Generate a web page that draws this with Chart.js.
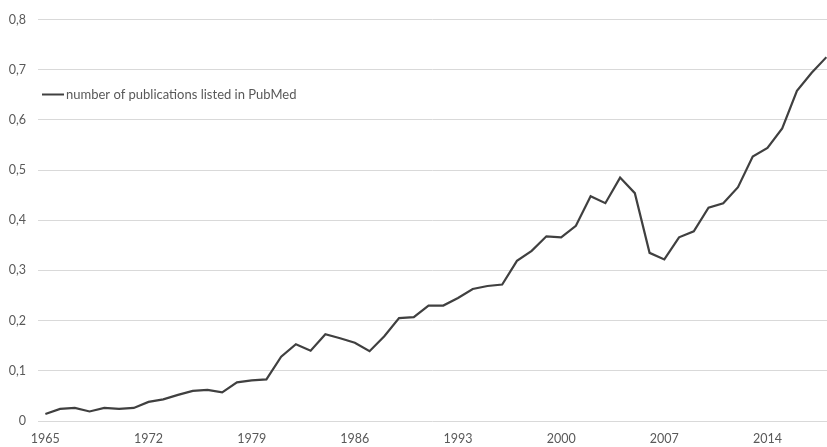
<!DOCTYPE html>
<html>
<head>
<meta charset="utf-8">
<title>PubMed publications</title>
<script src="https://cdn.jsdelivr.net/npm/chart.js@4/dist/chart.umd.min.js"></script>
<style>
    html, body { margin: 0; padding: 0; background: #fff; overflow: hidden; }
    #wrap { position: relative; width: 827px; height: 447px; }
</style>
</head>
<body>
<div id="wrap"><canvas id="chart"></canvas></div>
<script>
// --- Data ---
const years = [
    1965, 1966, 1967, 1968, 1969, 1970, 1971, 1972, 1973, 1974,
    1975, 1976, 1977, 1978, 1979, 1980, 1981, 1982, 1983, 1984,
    1985, 1986, 1987, 1988, 1989, 1990, 1991, 1992, 1993, 1994,
    1995, 1996, 1997, 1998, 1999, 2000, 2001, 2002, 2003, 2004,
    2005, 2006, 2007, 2008, 2009, 2010, 2011, 2012, 2013, 2014,
    2015, 2016, 2017, 2018
];
const publications = [
    0.014, 0.024, 0.026, 0.019, 0.026, 0.024, 0.026, 0.038, 0.043, 0.052,
    0.060, 0.062, 0.057, 0.077, 0.081, 0.083, 0.128, 0.153, 0.140, 0.173,
    0.165, 0.156, 0.139, 0.169, 0.205, 0.207, 0.230, 0.230, 0.245, 0.263,
    0.269, 0.272, 0.319, 0.339, 0.368, 0.366, 0.389, 0.448, 0.434, 0.485,
    0.454, 0.335, 0.322, 0.366, 0.378, 0.425, 0.434, 0.466, 0.527, 0.544,
    0.583, 0.658, 0.694, 0.725
];
const xTickYears = [1965, 1972, 1979, 1986, 1993, 2000, 2007, 2014];
const yTicks = [0, 0.1, 0.2, 0.3, 0.4, 0.5, 0.6, 0.7, 0.8];
const seriesLabel = 'number of publications listed in PubMed';

const fontFamily = 'Lato, "Open Sans", sans-serif';
const textColor = '#595959';
const lineColor = '#404040';

// --- Legend drawn inside the plot area, top left ---
const inlineLegend = {
    id: 'inlineLegend',
    afterDraw(chart) {
        const ctx = chart.ctx;
        const area = chart.chartArea;
        const ds = chart.data.datasets[0];
        const y = area.top + 75;
        ctx.save();
        ctx.strokeStyle = ds.borderColor;
        ctx.lineWidth = 2;
        ctx.beginPath();
        ctx.moveTo(area.left + 4, y);
        ctx.lineTo(area.left + 26, y);
        ctx.stroke();
        ctx.fillStyle = textColor;
        ctx.font = '13px ' + fontFamily;
        ctx.textBaseline = 'middle';
        ctx.fillText(ds.label, area.left + 28, y);
        ctx.restore();
    }
};

const ctx = document.getElementById('chart').getContext('2d');
new Chart(ctx, {
    type: 'line',
    data: {
        datasets: [{
            label: seriesLabel,
            data: years.map((yr, i) => ({ x: yr, y: publications[i] })),
            borderColor: lineColor,
            backgroundColor: lineColor,
            borderWidth: 2.2,
            pointRadius: 0,
            tension: 0,
            fill: false
        }]
    },
    options: {
        responsive: true,
        maintainAspectRatio: false,
        animation: false,
        devicePixelRatio: 1,
        layout: { padding: { top: 15, right: 0, bottom: 0, left: 0 } },
        plugins: {
            legend: { display: false },
            tooltip: { enabled: false }
        },
        scales: {
            x: {
                type: 'linear',
                min: 1964.5,
                max: 2018.04,
                afterBuildTicks: (scale) => {
                    scale.ticks = xTickYears.map(v => ({ value: v }));
                },
                afterFit: (scale) => { scale.height = 26; },
                grid: { display: false, drawTicks: false },
                border: { display: false },
                ticks: {
                    padding: 10,
                    color: textColor,
                    font: { family: fontFamily, size: 12.5 },
                    maxRotation: 0,
                    autoSkip: false,
                    callback: (v) => String(v)
                }
            },
            y: {
                min: 0,
                max: 0.8,
                afterBuildTicks: (scale) => {
                    scale.ticks = yTicks.map(v => ({ value: v }));
                },
                afterFit: (scale) => { scale.width = 38; },
                grid: { color: '#d9d9d9', lineWidth: 1, drawTicks: false },
                border: { display: false },
                ticks: {
                    padding: 12,
                    color: textColor,
                    font: { family: fontFamily, size: 12.5 },
                    callback: (v) => v === 0 ? '0' : v.toFixed(1).replace('.', ',')
                }
            }
        }
    },
    plugins: [inlineLegend]
});
</script>
</body>
</html>
